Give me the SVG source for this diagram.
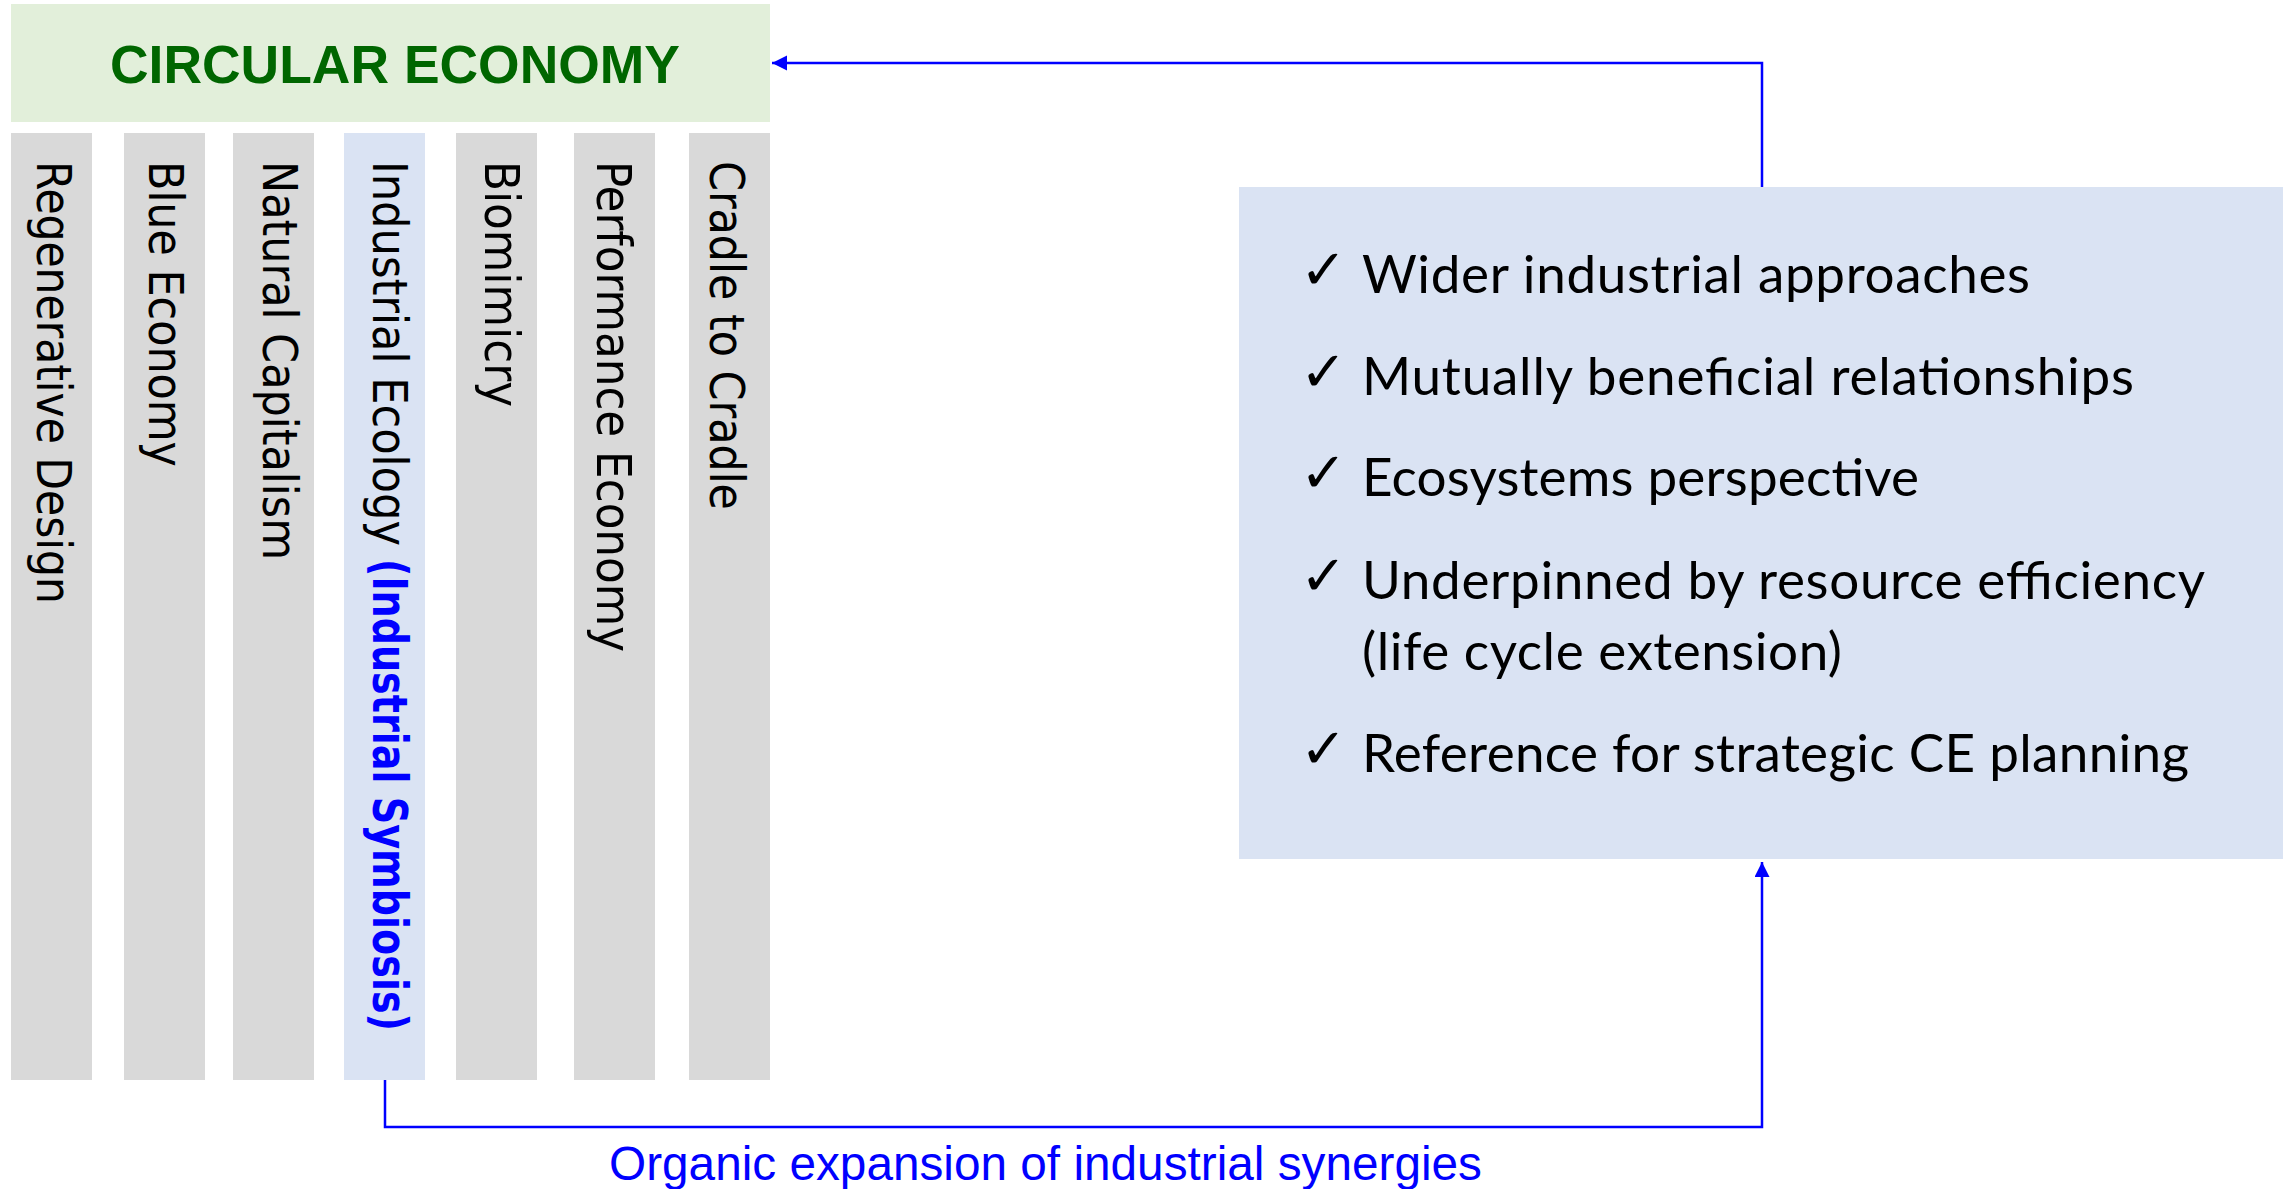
<svg xmlns="http://www.w3.org/2000/svg" width="2287" height="1189" viewBox="0 0 2287 1189">
<style>
.bar{fill:#D9D9D9}
.barhl{fill:#DAE3F3}
.vt{font-family:"DejaVu Sans Condensed","DejaVu Sans",sans-serif;font-stretch:condensed;font-size:48px;fill:#000}
.vtb{font-family:"DejaVu Sans Condensed","DejaVu Sans",sans-serif;font-stretch:condensed;font-weight:bold;font-size:48px;fill:#0000FF}
.bt{font-family:Lato,"Open Sans",sans-serif;font-size:53px;fill:#000}
.ck{font-family:"DejaVu Sans",sans-serif;font-weight:bold;font-size:56px;fill:#000}
.conn{fill:none;stroke:#0000FF;stroke-width:2.5}
</style>
<defs>
<marker id="arr" markerUnits="userSpaceOnUse" markerWidth="16" markerHeight="16" refX="15" refY="7.5" orient="auto">
<path d="M0,0 L15,7.5 L0,15 z" fill="#0000FF"/>
</marker>
</defs>
<rect width="2287" height="1189" fill="#FFFFFF"/>
<g id="circular-economy">
<rect x="11" y="4" width="759" height="118" fill="#E2EFDA"/>
<text x="110" y="83" font-family="Liberation Sans, Arial, sans-serif" font-weight="bold" font-size="54" fill="#006600" textLength="570" lengthAdjust="spacingAndGlyphs">CIRCULAR ECONOMY</text>
</g>
<g id="regenerative-design">
<rect class="bar" x="11" y="133" width="81" height="947"/>
<text class="vt" transform="translate(37,161) rotate(90)" textLength="443" lengthAdjust="spacingAndGlyphs">Regenerative Design</text>
</g>
<g id="blue-economy">
<rect class="bar" x="124" y="133" width="81" height="947"/>
<text class="vt" transform="translate(149,161) rotate(90)" textLength="306" lengthAdjust="spacingAndGlyphs">Blue Economy</text>
</g>
<g id="natural-capitalism">
<rect class="bar" x="233" y="133" width="81" height="947"/>
<text class="vt" transform="translate(263,161) rotate(90)" textLength="399" lengthAdjust="spacingAndGlyphs">Natural Capitalism</text>
</g>
<g id="industrial-ecology">
<rect class="barhl" x="344" y="133" width="81" height="947"/>
<text class="vt" transform="translate(373,161) rotate(90)" textLength="385" lengthAdjust="spacingAndGlyphs">Industrial Ecology</text>
<text class="vtb" transform="translate(373,559) rotate(90)" textLength="472" lengthAdjust="spacingAndGlyphs">(Industrial Symbiosis)</text>
</g>
<g id="biomimicry">
<rect class="bar" x="456" y="133" width="81" height="947"/>
<text class="vt" transform="translate(485,161) rotate(90)" textLength="246" lengthAdjust="spacingAndGlyphs">Biomimicry</text>
</g>
<g id="performance-economy">
<rect class="bar" x="574" y="133" width="81" height="947"/>
<text class="vt" transform="translate(597,161) rotate(90)" textLength="491" lengthAdjust="spacingAndGlyphs">Performance Economy</text>
</g>
<g id="cradle-to-cradle">
<rect class="bar" x="689" y="133" width="81" height="947"/>
<text class="vt" transform="translate(710,161) rotate(90)" textLength="349" lengthAdjust="spacingAndGlyphs">Cradle to Cradle</text>
</g>
<g id="characteristics">
<rect x="1239" y="187" width="1044" height="672" fill="#DAE3F3"/>
<text class="ck" x="1300" y="289">✓</text>
<text class="bt" x="1362" y="293" textLength="668">Wider industrial approaches</text>
<text class="ck" x="1300" y="391">✓</text>
<text class="bt" x="1362" y="395" textLength="772">Mutually beneficial relationships</text>
<text class="ck" x="1300" y="492">✓</text>
<text class="bt" x="1362" y="496" textLength="557">Ecosystems perspective</text>
<text class="ck" x="1300" y="595">✓</text>
<text class="bt" x="1362" y="599" textLength="843">Underpinned by resource efficiency</text>
<text class="bt" x="1362" y="670" textLength="480">(life cycle extension)</text>
<text class="ck" x="1300" y="768">✓</text>
<text class="bt" x="1362" y="772" textLength="827">Reference for strategic CE planning</text>
</g>
<g id="connectors">
<path class="conn" d="M1762,187 V63 H772" marker-end="url(#arr)"/>
<path class="conn" d="M385,1080 V1127 H1762 V862" marker-end="url(#arr)"/>
<text x="609" y="1180" font-family="Liberation Sans, Arial, sans-serif" font-size="48" fill="#0000FF" textLength="873" lengthAdjust="spacingAndGlyphs">Organic expansion of industrial synergies</text>
</g>
</svg>
